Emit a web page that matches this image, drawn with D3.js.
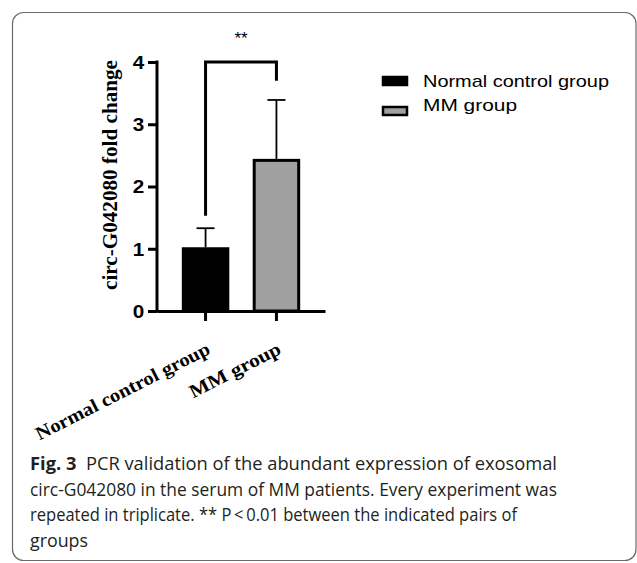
<!DOCTYPE html>
<html>
<head>
<meta charset="utf-8">
<script src="https://cdn.jsdelivr.net/npm/d3@7"></script>
<style>
  html, body { margin: 0; padding: 0; background: #fff; }
  svg { display: block; }
</style>
</head>
<body>
<div id="chart"></div>
<script>
// data
const groups = ['Normal control group', 'MM group'];
const means = [1.0, 2.42];
const errUpper = [1.33, 3.39];
const fills = ['#000000', '#a0a0a0'];
const yTicks = [0, 1, 2, 3, 4];
const sigPair = ['Normal control group', 'MM group'];
const sigLegs = [1.53, 3.7];   // where bracket legs stop
const sigTop = 4;
const sigLabel = '**';
const captionLines = [
  ['Fig. 3', '  PCR validation of the abundant expression of exosomal'],
  ['', 'circ-G042080 in the serum of MM patients. Every experiment was'],
  ['', 'repeated in triplicate. ** P\u2009<\u20090.01 between the indicated pairs of'],
  ['', 'groups']
];
const captionWidths = [527, 527, 487, 58];

const width = 637, height = 563;

const svg = d3.select('#chart').append('svg')
  .attr('width', width)
  .attr('height', height);

// frame
svg.append('rect')
  .attr('x', 12.5).attr('y', 12.5)
  .attr('width', 623.5).attr('height', 548)
  .attr('rx', 11)
  .attr('fill', 'none')
  .attr('stroke', '#6a6a6a')
  .attr('stroke-width', 1.2);

const x = d3.scaleBand()
  .domain(groups)
  .range([157, 325])
  .paddingInner(0.33)
  .paddingOuter(0.35);

const y = d3.scaleLinear()
  .domain([0, 4])
  .range([311, 62]);

const color = d3.scaleOrdinal().domain(groups).range(fills);

// bars
svg.selectAll('.bar')
  .data(groups)
  .enter()
  .append('rect')
  .attr('class', 'bar')
  .attr('x', d => x(d) + 1.5)
  .attr('width', x.bandwidth() - 3)
  .attr('y', (d, i) => y(means[i]))
  .attr('height', (d, i) => y(0) - y(means[i]))
  .attr('fill', d => color(d))
  .attr('stroke', '#000')
  .attr('stroke-width', 3);

// error bars (upper only)
const eb = svg.selectAll('.err')
  .data(groups)
  .enter()
  .append('g')
  .attr('class', 'err')
  .attr('stroke', '#000')
  .attr('stroke-width', 1.8);

eb.append('line')
  .attr('x1', d => x(d) + x.bandwidth() / 2)
  .attr('x2', d => x(d) + x.bandwidth() / 2)
  .attr('y1', (d, i) => y(means[i]) - 1.5)
  .attr('y2', (d, i) => y(errUpper[i]));

eb.append('line')
  .attr('x1', d => x(d) + x.bandwidth() / 2 - 9)
  .attr('x2', d => x(d) + x.bandwidth() / 2 + 9)
  .attr('y1', (d, i) => y(errUpper[i]))
  .attr('y2', (d, i) => y(errUpper[i]));

// axes
const axisY = d3.axisLeft(y)
  .tickValues(yTicks)
  .tickSize(9)
  .tickSizeOuter(0)
  .tickPadding(2)
  .tickFormat(d3.format('d'));

const gy = svg.append('g')
  .attr('transform', 'translate(157,0)')
  .call(axisY);

gy.selectAll('path, line')
  .attr('stroke', '#000')
  .attr('stroke-width', 3);
gy.select('.domain').attr('d', `M0,${y(4) - 1.5}V${y(0) + 1.5}`);
gy.selectAll('text')
  .attr('font-family', 'Liberation Sans, Arial, sans-serif')
  .attr('font-weight', 'bold')
  .attr('font-size', 18)
  .attr('fill', '#000')
  .attr('dy', '0.36em')
  .attr('transform', 'scale(1.15,1)');

const axisX = d3.axisBottom(x)
  .tickSize(10)
  .tickSizeOuter(0)
  .tickFormat('');

const gx = svg.append('g')
  .attr('transform', `translate(0,${y(0)})`)
  .call(axisX);

gx.selectAll('path, line')
  .attr('stroke', '#000')
  .attr('stroke-width', 3);

// rotated category labels
svg.selectAll('.xlab')
  .data(groups)
  .enter()
  .append('text')
  .attr('class', 'xlab')
  .attr('text-anchor', 'end')
  .attr('font-family', 'Liberation Serif, Times New Roman, serif')
  .attr('font-weight', 'bold')
  .attr('font-size', 19)
  .attr('textLength', (d, i) => [193, 100][i])
  .attr('lengthAdjust', 'spacingAndGlyphs')
  .attr('transform', d => `translate(${x(d) + x.bandwidth() / 2 + 6},${y(0) + 42}) rotate(-27)`)
  .text(d => d);

// y label
svg.append('text')
  .attr('text-anchor', 'middle')
  .attr('font-family', 'Liberation Serif, Times New Roman, serif')
  .attr('font-weight', 'bold')
  .attr('font-size', 20)
  .attr('textLength', 230)
  .attr('lengthAdjust', 'spacingAndGlyphs')
  .attr('transform', `translate(117,175) rotate(-90)`)
  .text('circ-G042080 fold change');

// significance bracket
const bx1 = x(sigPair[0]) + x.bandwidth() / 2;
const bx2 = x(sigPair[1]) + x.bandwidth() / 2;
svg.append('path')
  .attr('d', `M${bx1},${y(sigLegs[0])}V${y(sigTop)}H${bx2}V${y(sigLegs[1])}`)
  .attr('fill', 'none')
  .attr('stroke', '#000')
  .attr('stroke-width', 3);

svg.append('text')
  .attr('x', (bx1 + bx2) / 2)
  .attr('y', 44)
  .attr('text-anchor', 'middle')
  .attr('font-family', 'Liberation Sans, Arial, sans-serif')
  .attr('font-size', 17)
  .text(sigLabel);

// legend
const legend = svg.selectAll('.leg')
  .data(groups)
  .enter()
  .append('g')
  .attr('class', 'leg')
  .attr('transform', (d, i) => `translate(383,${[77, 107][i]})`);

legend.append('rect')
  .attr('width', 24)
  .attr('height', 8)
  .attr('fill', d => color(d))
  .attr('stroke', '#000')
  .attr('stroke-width', 2.5);

legend.append('text')
  .attr('x', 40)
  .attr('y', (d, i) => [10, 4][i])
  .attr('font-family', 'Liberation Sans, Arial, sans-serif')
  .attr('font-size', 17)
  .attr('textLength', (d, i) => [186, 94][i])
  .attr('lengthAdjust', 'spacingAndGlyphs')
  .text(d => d);

// caption
const cap = svg.selectAll('.cap')
  .data(captionLines)
  .enter()
  .append('text')
  .attr('class', 'cap')
  .attr('x', 30)
  .attr('y', (d, i) => 470 + i * 25.5)
  .attr('font-family', 'Open Sans, Noto Sans, sans-serif')
  .attr('font-size', 17.5)
  .attr('fill', '#231f20')
  .attr('xml:space', 'preserve')
  .attr('textLength', (d, i) => captionWidths[i])
  .attr('lengthAdjust', 'spacingAndGlyphs');

cap.append('tspan')
  .attr('font-weight', 'bold')
  .text(d => d[0]);
cap.append('tspan')
  .text(d => d[1]);
</script>
</body>
</html>
